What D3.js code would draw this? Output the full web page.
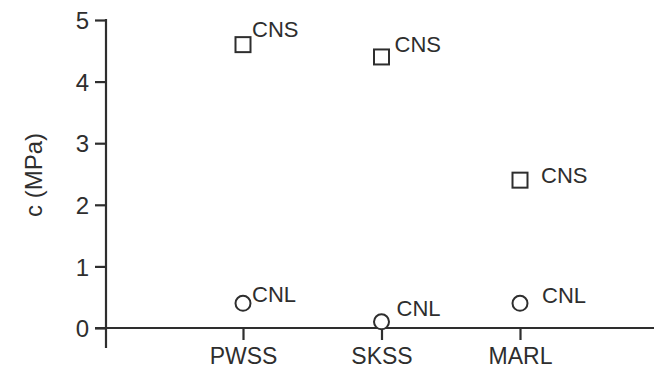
<!DOCTYPE html>
<html>
<head>
<meta charset="utf-8">
<script src="https://cdn.jsdelivr.net/npm/d3@7"></script>
<style>
  html, body { margin: 0; padding: 0; background: #fff; }
  svg { display: block; font-family: "Liberation Sans", Arial, sans-serif; }
</style>
</head>
<body>
<svg id="chart" width="654" height="372"></svg>
<script>
// Cohesion c (MPa) for three rock types, two test conditions
const categories = ["PWSS", "SKSS", "MARL"];
const cnsValues = [4.6, 4.4, 2.4];
const cnlValues = [0.4, 0.1, 0.4];
const seriesNames = ["CNS", "CNL"];
const yTicks = [0, 1, 2, 3, 4, 5];

const svg = d3.select("#chart");
const ink = "#2e2e2e";
const font = "Liberation Sans, Arial, sans-serif";

const y = d3.scaleLinear().domain([0, 5]).range([328, 20]);
const x = d3.scalePoint().domain(categories).range([243, 520]);

// y axis
const yAxis = svg.append("g")
  .attr("transform", "translate(106,0)")
  .call(d3.axisLeft(y).tickValues(yTicks).tickFormat(d3.format("d"))
    .tickSize(11).tickPadding(6).tickSizeOuter(0));
yAxis.select(".domain").remove();
yAxis.append("line").attr("x1", 0).attr("x2", 0).attr("y1", 19).attr("y2", 348)
  .attr("stroke", ink).attr("stroke-width", 2.2);
yAxis.selectAll(".tick line").attr("stroke", ink).attr("stroke-width", 2.2);
yAxis.selectAll(".tick text").attr("fill", ink).attr("font-size", 24)
  .attr("font-family", font).attr("dy", "0.36em");

// x axis
const xAxis = svg.append("g")
  .attr("transform", "translate(0,328)")
  .call(d3.axisBottom(x).tickSize(12).tickPadding(8).tickSizeOuter(0));
xAxis.select(".domain").remove();
xAxis.append("line").attr("x1", 95).attr("x2", 654).attr("y1", 0).attr("y2", 0)
  .attr("stroke", ink).attr("stroke-width", 2.2);
xAxis.selectAll(".tick line").attr("stroke", ink).attr("stroke-width", 2.2);
xAxis.selectAll(".tick text").attr("fill", ink).attr("font-size", 23)
  .attr("font-family", font);

// y title
svg.append("text")
  .attr("transform", `translate(42,175) rotate(-90)`)
  .attr("text-anchor", "middle")
  .attr("fill", ink)
  .attr("font-size", 24)
  .text("c (MPa)");

// CNS: open squares
const sq = 15;
svg.selectAll("rect.cns").data(cnsValues).join("rect")
  .attr("class", "cns")
  .attr("x", (d, i) => x(categories[i]) - sq / 2)
  .attr("y", d => y(d) - sq / 2)
  .attr("width", sq).attr("height", sq)
  .attr("fill", "none").attr("stroke", ink).attr("stroke-width", 2);

// CNL: open circles
svg.selectAll("circle.cnl").data(cnlValues).join("circle")
  .attr("class", "cnl")
  .attr("cx", (d, i) => x(categories[i]))
  .attr("cy", d => y(d))
  .attr("r", 7.5)
  .attr("fill", "#fff").attr("stroke", ink).attr("stroke-width", 2);

// point labels, offset from each marker
const cnsOffsets = [[9, -8], [13, -5], [21, 3]];
const cnlOffsets = [[9, -1], [15, -6], [22, 0]];
svg.selectAll("text.cnsl").data(cnsValues).join("text")
  .attr("class", "cnsl")
  .attr("x", (d, i) => x(categories[i]) + cnsOffsets[i][0])
  .attr("y", (d, i) => y(d) + cnsOffsets[i][1])
  .attr("fill", ink).attr("font-size", 22)
  .text(seriesNames[0]);
svg.selectAll("text.cnll").data(cnlValues).join("text")
  .attr("class", "cnll")
  .attr("x", (d, i) => x(categories[i]) + cnlOffsets[i][0])
  .attr("y", (d, i) => y(d) + cnlOffsets[i][1])
  .attr("fill", ink).attr("font-size", 22)
  .text(seriesNames[1]);
</script>
</body>
</html>
